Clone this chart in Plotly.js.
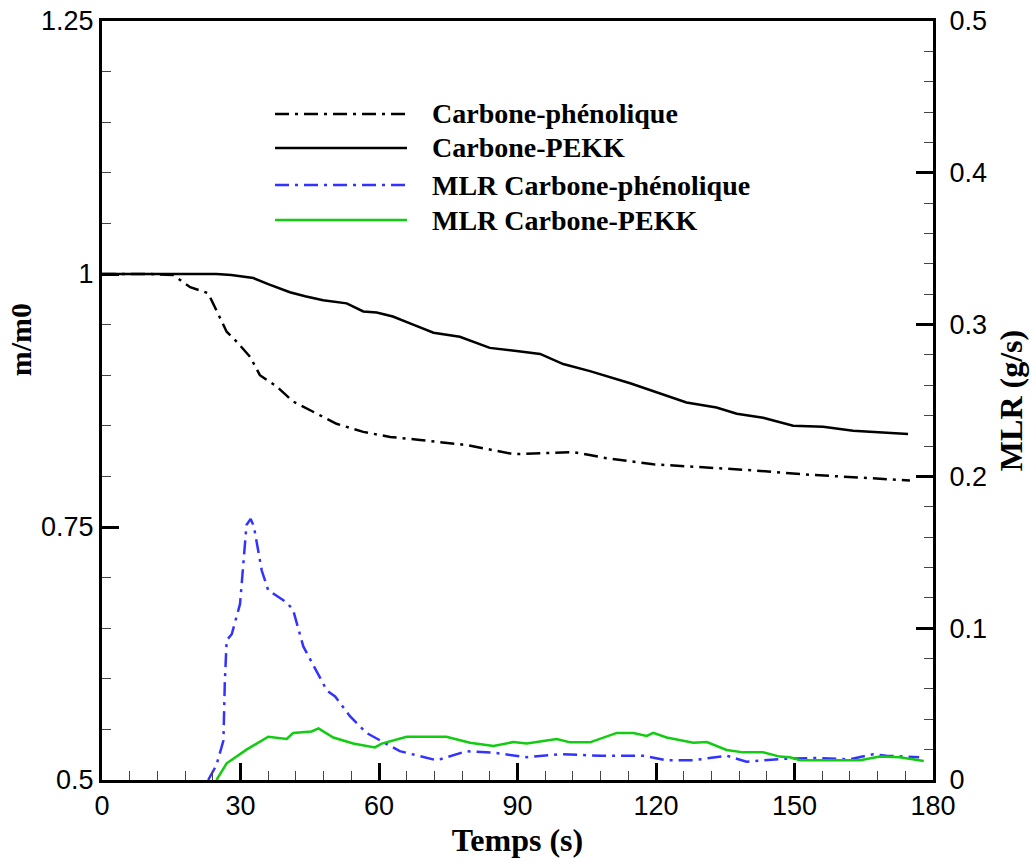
<!DOCTYPE html>
<html>
<head>
<meta charset="utf-8">
<script src="https://cdn.plot.ly/plotly-3.0.1.min.js"></script>
<style>html,body{margin:0;padding:0;background:#fff;}#chart{width:1034px;height:862px;}</style>
</head>
<body>
<div id="chart"></div>
<script>
// Mass ratio m/m0 (left axis)
var phenT = [0, 10, 15.4, 19.1, 23.0, 24.8, 27.0, 29.2, 32.1, 34.2, 37.8, 41.4, 46.5, 50.8, 56.6, 62.4, 68.9, 79.0, 89.1, 94.1, 102.1, 109.3, 119.4, 130.2, 141.1, 151.9, 162.7, 175.0];
var phenM = [1.0, 1.0, 0.999, 0.987, 0.981, 0.964, 0.943, 0.933, 0.918, 0.900, 0.889, 0.874, 0.862, 0.852, 0.844, 0.839, 0.836, 0.831, 0.822, 0.823, 0.824, 0.818, 0.812, 0.809, 0.806, 0.802, 0.799, 0.796];

var pekkT = [0, 10, 20, 24.8, 28, 32.8, 36, 40.7, 44, 47.9, 53.0, 56.6, 59.5, 63, 67.4, 71.8, 77.5, 84.0, 89.8, 94.9, 99.9, 105.7, 114.4, 120.9, 126.6, 133.1, 137.5, 143.2, 149.7, 156.2, 162.7, 174.6];
var pekkM = [1.0, 1.0, 1.0, 1.0, 0.999, 0.996, 0.99, 0.982, 0.978, 0.974, 0.971, 0.963, 0.962, 0.958, 0.950, 0.942, 0.938, 0.927, 0.924, 0.921, 0.911, 0.904, 0.892, 0.882, 0.873, 0.868, 0.862, 0.858, 0.850, 0.849, 0.845, 0.842];

// Mass loss rate MLR in g/s (right axis)
var mlrPhenT = [23.0, 24.8, 26.3, 26.6, 27.0, 28.1, 29.9, 30.6, 31.3, 32.2, 32.9, 34.6, 36.0, 40.0, 41.4, 43.6, 48.7, 50.5, 53.7, 57.3, 61.7, 64.5, 72.5, 79.0, 84.8, 92.0, 99.2, 107.9, 117.2, 122.3, 128.1, 135.3, 139.6, 147.6, 154.8, 162.0, 167.1, 169.9, 177];
var mlrPhenV = [0, 0.0099, 0.026, 0.064, 0.092, 0.096, 0.116, 0.143, 0.168, 0.172, 0.167, 0.138, 0.125, 0.117, 0.112, 0.088, 0.059, 0.055, 0.042, 0.031, 0.024, 0.019, 0.013, 0.019, 0.018, 0.015, 0.017, 0.016, 0.016, 0.013, 0.013, 0.016, 0.012, 0.014, 0.0145, 0.0136, 0.017, 0.016, 0.015];

var mlrPekkT = [24.8, 27.0, 31.3, 36.0, 40.0, 41.4, 45.4, 46.9, 50.1, 54.4, 59.1, 60.6, 66.0, 74.6, 79.7, 84.8, 89.1, 92.0, 98.5, 101.4, 105.7, 111.5, 115.1, 118.0, 119.4, 122.3, 128.1, 131.0, 135.3, 138.9, 143.2, 146.8, 149.0, 151.2, 164.2, 168.5, 172.8, 178];
var mlrPekkV = [0, 0.011, 0.020, 0.0285, 0.027, 0.031, 0.032, 0.034, 0.028, 0.024, 0.0215, 0.024, 0.0285, 0.0285, 0.0246, 0.0224, 0.025, 0.024, 0.027, 0.0248, 0.0248, 0.031, 0.031, 0.029, 0.031, 0.028, 0.0246, 0.025, 0.0198, 0.0182, 0.0182, 0.0154, 0.015, 0.013, 0.013, 0.0154, 0.015, 0.0125];

var seriesNames = ['Carbone-phénolique', 'Carbone-PEKK', 'MLR Carbone-phénolique', 'MLR Carbone-PEKK'];
var seriesColors = ['#000000', '#000000', '#3333ff', '#11cc11'];
var dashDot = '14px,6px,3px,6px';
var seriesDash = [dashDot, 'solid', dashDot, 'solid'];

var traces = [
  {x: phenT, y: phenM, yaxis: 'y'},
  {x: pekkT, y: pekkM, yaxis: 'y'},
  {x: mlrPhenT, y: mlrPhenV, yaxis: 'y2'},
  {x: mlrPekkT, y: mlrPekkV, yaxis: 'y2'}
].map(function (t, i) {
  t.type = 'scatter';
  t.mode = 'lines';
  t.name = seriesNames[i];
  t.line = {color: seriesColors[i], width: 2.5, dash: seriesDash[i]};
  t.showlegend = false;
  return t;
});

// Hand-drawn legend (long line samples like the original)
var legRowsY = [0.8775, 0.8327, 0.7839, 0.7378];
var shapes = [];
var annotations = [];
for (var i = 0; i < 4; i++) {
  shapes.push({type: 'line', xref: 'paper', yref: 'paper', x0: 0.2082, x1: 0.367, y0: legRowsY[i], y1: legRowsY[i],
    line: {color: seriesColors[i], width: 2.5, dash: seriesDash[i]}});
  annotations.push({xref: 'paper', yref: 'paper', x: 0.3947, y: legRowsY[i], xanchor: 'left', yanchor: 'middle',
    showarrow: false, text: '<b>' + seriesNames[i] + '</b>',
    font: {family: 'Liberation Serif, Times New Roman, serif', size: 28, color: '#000'}});
}
annotations.push({xref: 'paper', yref: 'paper', x: -0.098, y: 0.58, xanchor: 'center', yanchor: 'middle',
  showarrow: false, textangle: -90, text: '<b>m/m0</b>',
  font: {family: 'Liberation Serif, Times New Roman, serif', size: 30, color: '#000'}});

var tickFont = {family: 'Liberation Sans, Arial, sans-serif', size: 27, color: '#000'};
var titleFont = {family: 'Liberation Serif, Times New Roman, serif', size: 32, color: '#000'};

var layout = {
  width: 1034, height: 862,
  margin: {l: 102, r: 101, t: 21, b: 82, pad: 0},
  paper_bgcolor: '#fff', plot_bgcolor: '#fff',
  showlegend: false,
  xaxis: {
    range: [0, 180], dtick: 30, tick0: 0,
    showgrid: false, zeroline: false,
    showline: true, linecolor: '#000', linewidth: 3, mirror: true,
    ticks: 'inside', ticklen: 17, tickwidth: 3, tickcolor: '#000',
    minor: {dtick: 6, ticks: 'inside', ticklen: 9, tickwidth: 1, tickcolor: '#444', showgrid: false},
    tickfont: tickFont,
    title: {text: '<b>Temps (s)</b>', font: titleFont, standoff: 9}
  },
  yaxis: {
    range: [0.5, 1.25], dtick: 0.25, tick0: 0.5,
    showgrid: false, zeroline: false,
    showline: true, linecolor: '#000', linewidth: 3,
    ticks: 'inside', ticklen: 17, tickwidth: 3, tickcolor: '#000',
    minor: {dtick: 0.05, ticks: 'inside', ticklen: 9, tickwidth: 1, tickcolor: '#444', showgrid: false},
    tickfont: tickFont
  },
  yaxis2: {
    overlaying: 'y', side: 'right',
    range: [0, 0.5], dtick: 0.1, tick0: 0,
    showgrid: false, zeroline: false,
    showline: true, linecolor: '#000', linewidth: 3,
    ticks: 'inside', ticklen: 17, tickwidth: 3, tickcolor: '#000',
    minor: {dtick: 0.02, ticks: 'inside', ticklen: 9, tickwidth: 1, tickcolor: '#444', showgrid: false},
    tickfont: tickFont, ticklabelstandoff: 8,
    title: {text: '<b>MLR (g/s)</b>', font: titleFont, standoff: 14}
  },
  shapes: shapes,
  annotations: annotations
};

Plotly.newPlot('chart', traces, layout, {displayModeBar: false, staticPlot: true});
</script>
</body>
</html>
